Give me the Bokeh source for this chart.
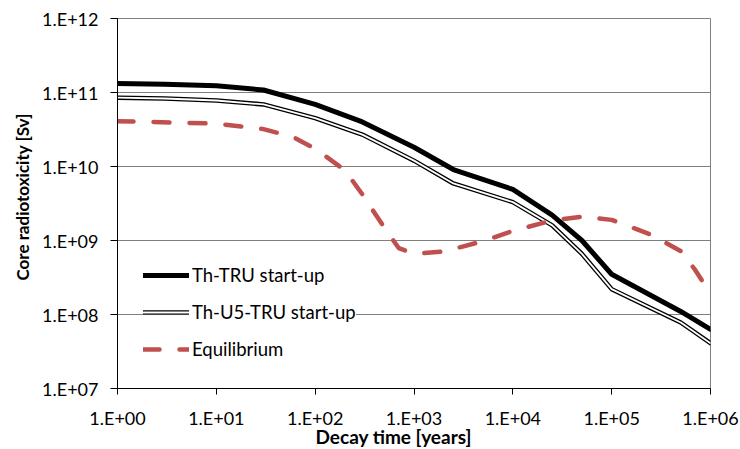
from bokeh.embed import file_html
from bokeh.models import (CustomJSTickFormatter, FixedTicker, Legend,
                          LegendItem, Title)
from bokeh.plotting import figure
from bokeh.resources import INLINE

# Decay time [years] and core radiotoxicity [Sv]
decay_time = [1, 3, 10, 30, 100, 300, 1000, 2500, 10000, 25000, 50000,
              100000, 500000, 1000000]
th_tru = [1.32e11, 1.29e11, 1.23e11, 1.08e11, 6.9e10, 4.0e10, 1.82e10,
          9.1e9, 4.9e9, 2.2e9, 1.0e9, 3.5e8, 1.1e8, 6.3e7]
th_u5_tru = [8.5e10, 8.3e10, 7.8e10, 6.9e10, 4.5e10, 2.7e10, 1.2e10,
             5.9e9, 3.3e9, 1.6e9, 6.6e8, 2.2e8, 7.8e7, 4.1e7]

eq_time = [1, 10, 30, 60, 100, 200, 300, 500, 700, 1000, 2000, 5000,
           10000, 25000, 50000, 100000, 250000, 500000, 700000, 1000000]
equilibrium = [4.1e10, 3.8e10, 3.2e10, 2.5e10, 1.74e10, 8.9e9, 4.2e9,
               1.5e9, 7.9e8, 6.6e8, 7.1e8, 9.8e8, 1.35e9, 1.86e9, 2.1e9,
               1.9e9, 1.2e9, 7.2e8, 4.0e8, 1.9e8]

series_names = ["Th-TRU start-up", "Th-U5-TRU start-up", "Equilibrium"]

x_ticks = [1, 10, 100, 1000, 10000, 100000, 1000000]
x_tick_labels = ["1.E+00", "1.E+01", "1.E+02", "1.E+03", "1.E+04",
                 "1.E+05", "1.E+06"]
y_ticks = [1e7, 1e8, 1e9, 1e10, 1e11, 1e12]
y_tick_labels = ["1.E+07", "1.E+08", "1.E+09", "1.E+10", "1.E+11",
                 "1.E+12"]

FONT = "Lato"
RED = "#C0504D"

p = figure(width=740, height=449,
           x_axis_type="log", y_axis_type="log",
           x_range=(1, 1e6), y_range=(1e7, 1e12),
           min_border_left=117, min_border_right=30,
           min_border_top=18, min_border_bottom=61,
           output_backend="svg", toolbar_location=None)

p.background_fill_color = "white"
p.border_fill_color = "white"
p.outline_line_color = "#7f7f7f"
p.outline_line_width = 1

p.xgrid.visible = False
p.ygrid.grid_line_color = "#7f7f7f"
p.ygrid.grid_line_width = 1

fmt_code = """
const e = Math.round(Math.log10(tick));
return labels[e - start];
"""
p.xaxis.ticker = FixedTicker(ticks=x_ticks, minor_ticks=[])
p.yaxis.ticker = FixedTicker(ticks=y_ticks, minor_ticks=[])
p.xaxis.formatter = CustomJSTickFormatter(
    args=dict(labels=x_tick_labels, start=0), code=fmt_code)
p.yaxis.formatter = CustomJSTickFormatter(
    args=dict(labels=y_tick_labels, start=7), code=fmt_code)

for ax in (p.xaxis, p.yaxis):
    ax.axis_line_color = "black"
    ax.axis_line_width = 1
    ax.major_tick_line_color = "black"
    ax.major_tick_in = 0
    ax.minor_tick_line_color = None
    ax.major_label_text_font = FONT
    ax.major_label_text_font_size = "18px"
    ax.major_label_text_color = "black"
p.yaxis.major_tick_out = 7
p.xaxis.major_tick_out = 6
p.yaxis.major_label_standoff = 12
p.xaxis.major_label_standoff = 12

# Th-TRU start-up: heavy solid line
r_tru = p.line(decay_time, th_tru, line_color="black", line_width=5,
               line_join="round", line_cap="round")

# Th-U5-TRU start-up: double line (black outline with white core)
r_u5_out = p.line(decay_time, th_u5_tru, line_color="black", line_width=4.5,
                  line_join="round", line_cap="round")
r_u5_in = p.line(decay_time, th_u5_tru, line_color="white", line_width=1.8,
                 line_join="round", line_cap="round")

# Equilibrium: red long-dash line
r_eq = p.line(eq_time, equilibrium, line_color=RED, line_width=4.5,
              line_dash="16 20", line_cap="round", line_join="round")

legend = Legend(items=[
    LegendItem(label=series_names[0], renderers=[r_tru]),
    LegendItem(label=series_names[1], renderers=[r_u5_out, r_u5_in]),
    LegendItem(label=series_names[2], renderers=[r_eq]),
], location=(26, 28))
legend.background_fill_color = "white"
legend.background_fill_alpha = 1
legend.border_line_color = None
legend.glyph_width = 46
legend.glyph_height = 22
legend.label_height = 22
legend.spacing = 15
legend.padding = 10
legend.margin = 0
legend.label_standoff = 3
legend.label_text_font = FONT
legend.label_text_font_size = "18.5px"
legend.label_text_color = "black"
p.add_layout(legend)

# Axis titles
x_title = Title(text="Decay time [years]", align="left", offset=198,
                vertical_align="middle",
                text_font=FONT, text_font_style="bold",
                text_font_size="19px", text_color="black", standoff=-16)
y_title = Title(text="Core radiotoxicity [Sv]", align="left", offset=108,
                text_font=FONT, text_font_style="bold",
                text_font_size="17px", text_color="black", standoff=14)
p.add_layout(x_title, "below")
p.add_layout(y_title, "left")

open("out.html", "w").write(file_html(p, INLINE))
